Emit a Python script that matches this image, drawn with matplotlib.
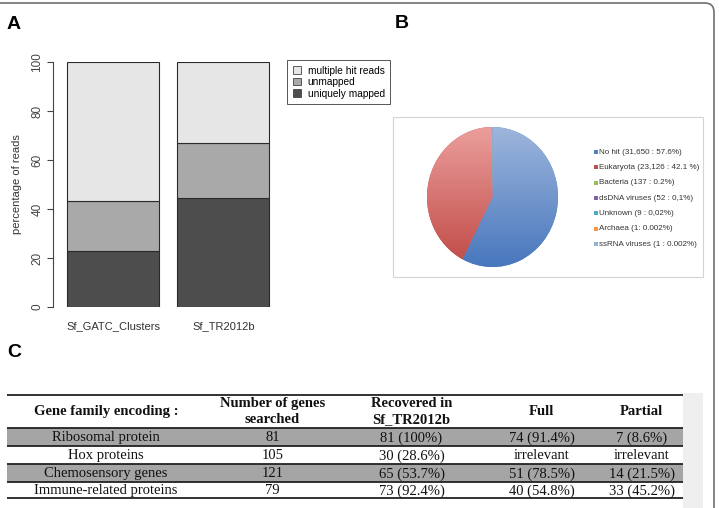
import matplotlib
matplotlib.use("Agg")
import matplotlib.pyplot as plt
import numpy as np
from matplotlib.patches import Patch, Rectangle, FancyBboxPatch
from matplotlib.colors import LinearSegmentedColormap

# ---- data ----
samples = ["Sf_GATC_Clusters", "Sf_TR2012b"]
uniquely_mapped = [23.0, 44.6]
unmapped = [20.2, 22.2]
multiple_hit = [56.8, 33.2]

pie_labels = ["No hit (31,650 : 57.6%)", "Eukaryota (23,126 : 42.1 %)", "Bacteria (137 : 0.2%)",
              "dsDNA viruses (52 : 0,1%)", "Unknown (9 : 0,02%)", "Archaea (1: 0.002%)",
              "ssRNA viruses (1 : 0.002%)"]
pie_counts = [31650, 23126, 137, 52, 9, 1, 1]
pie_colors = ["#4f81bd", "#c0504d", "#9bbb59", "#8064a2", "#4bacc6", "#f79646", "#95b3d7"]

table_header = ["Gene family encoding :", "Number of genes\nsearched", "Recovered in\nSf_TR2012b",
                "Full", "Partial"]
table_rows = [
    ["Ribosomal protein", "81", "81 (100%)", "74 (91.4%)", "7 (8.6%)"],
    ["Hox proteins", "105", "30 (28.6%)", "irrelevant", "irrelevant"],
    ["Chemosensory genes", "121", "65 (53.7%)", "51 (78.5%)", "14 (21.5%)"],
    ["Immune-related proteins", "79", "73 (92.4%)", "40 (54.8%)", "33 (45.2%)"],
]

W, H = 719, 508
fig = plt.figure(figsize=(W / 100, H / 100), dpi=100)


def px(x0, y0, x1, y1):
    return [x0 / W, 1 - y1 / H, (x1 - x0) / W, (y1 - y0) / H]


# background overlay in pixel coordinates
bg = fig.add_axes([0, 0, 1, 1], zorder=-1)
bg.set_xlim(0, W)
bg.set_ylim(H, 0)
bg.axis("off")
bg.add_patch(FancyBboxPatch((-30, 3), 744, 540, boxstyle="round,pad=0,rounding_size=9",
                            facecolor="none", edgecolor="#707070", lw=1.2))
bg.add_patch(Rectangle((683, 393), 20, 120, facecolor="#efefef", edgecolor="none"))
bg.add_patch(Rectangle((393, 117), 310, 160, facecolor="white", edgecolor="#d4d4d4", lw=0.8))

sans = "Liberation Sans"
for lab, x, y in [("A", 7, 29), ("B", 395, 28), ("C", 7, 357)]:
    bg.text(x, y, lab, fontsize=14, fontweight="bold", family=sans, va="baseline", ha="left")

# ---- panel A: stacked bars ----
ax = fig.add_axes(px(53, 62, 290, 307))
ax.set_facecolor("none")
pos = [0.7, 1.9]
ax.bar(pos, uniquely_mapped, width=1, color="#4d4d4d", edgecolor="#2a2a2a", lw=0.8)
ax.bar(pos, unmapped, width=1, bottom=uniquely_mapped, color="#a9a9a9", edgecolor="#2a2a2a", lw=0.8)
bottom2 = [a + b for a, b in zip(uniquely_mapped, unmapped)]
ax.bar(pos, multiple_hit, width=1, bottom=bottom2, color="#e6e6e6", edgecolor="#2a2a2a", lw=0.8)
ax.set_xlim(0.048, 2.624)
ax.set_ylim(0, 100)
for s in ["top", "right", "bottom"]:
    ax.spines[s].set_visible(False)
ax.spines["left"].set_bounds(0, 100)
ax.spines["left"].set_color("#444444")
ax.set_yticks([0, 20, 40, 60, 80, 100])
ax.tick_params(axis="y", direction="out", length=4, colors="#444444", labelsize=8.5, pad=3)
for t in ax.get_yticklabels():
    t.set_rotation(90)
    t.set_va("center")
    t.set_family(sans)
ax.set_xticks(pos)
ax.set_xticklabels(samples, fontsize=8, family=sans, color="#333333")
ax.tick_params(axis="x", length=0, pad=10)
ax.set_ylabel("percentage of reads", fontsize=8, family=sans, color="#333333", labelpad=7)

leg_handles = [Patch(facecolor="#e6e6e6", edgecolor="#444444", lw=0.6),
               Patch(facecolor="#a9a9a9", edgecolor="#444444", lw=0.6),
               Patch(facecolor="#4d4d4d", edgecolor="#444444", lw=0.6)]
leg = fig.legend(leg_handles, ["multiple hit reads", "unmapped", "uniquely mapped"],
                 loc="upper left", bbox_to_anchor=(287 / W, 1 - 60 / H), fancybox=False,
                 edgecolor="#555555", framealpha=1, handlelength=0.8,
                 handleheight=0.8, labelspacing=0.15, borderpad=0.55, handletextpad=0.7,
                 borderaxespad=0, prop={"family": sans, "size": 7.3})
leg.get_frame().set_linewidth(0.7)

# ---- panel B: pie ----
pax = fig.add_axes(px(427, 127, 558, 267))
pax.set_facecolor("none")
wedges, _ = pax.pie(pie_counts, colors=pie_colors, startangle=90, counterclock=False,
                    radius=1, wedgeprops=dict(linewidth=0))
grad = np.linspace(0, 1, 256).reshape(-1, 1)
grads = [("#4877bd", "#9db6dc"), ("#c04a46", "#eb9e9c")]
for w, (c_lo, c_hi) in zip(wedges[:2], grads):
    cmap = LinearSegmentedColormap.from_list("g", [c_lo, c_hi])
    im = pax.imshow(grad, extent=(-1, 1, -1, 1), origin="lower", cmap=cmap, aspect="auto",
                    zorder=3)
    im.set_clip_path(w)
pax.set_xlim(-1, 1)
pax.set_ylim(-1, 1)
pax.set_aspect("auto")
pax.axis("off")

for i, (lab, col) in enumerate(zip(pie_labels, pie_colors)):
    y = 152 + i * 15.35
    bg.scatter([596], [y], marker="s", s=6, color=col, linewidths=0)
    bg.text(599, y, lab, fontsize=5.75, family=sans, color="#333333", va="center", ha="left")

# ---- panel C: table ----
tax = fig.add_axes(px(7, 393, 683, 500))
tax.set_facecolor("none")
tax.set_xlim(7, 683)
tax.set_ylim(500, 393)
tax.axis("off")
col_edges = [7, 205, 340, 483, 600, 683]
centers = [(a + b) / 2 for a, b in zip(col_edges[:-1], col_edges[1:])]
row_edges = [428, 446, 464, 482, 498]
serif = "Liberation Serif"

for i, row in enumerate(table_rows):
    top, bot = row_edges[i], row_edges[i + 1]
    if i % 2 == 0:
        tax.add_patch(Rectangle((7, top), 676, bot - top, facecolor="#a5a5a5", edgecolor="none"))
        tax.hlines([top, bot], 7, 683, color="#222222", lw=1.3)
    for c, txt in zip(centers, row):
        tax.text(c, (top + bot) / 2 + 1, txt, fontsize=10.5, family=serif, ha="center",
                 va="center", color="#111111")

tax.hlines([395], 7, 683, color="#222222", lw=1.3)
tax.hlines([498], 7, 683, color="#222222", lw=1.3)
for c, txt in zip(centers, table_header):
    tax.text(c, 412, txt, fontsize=10.5, family=serif, fontweight="bold", ha="center",
             va="center", color="#111111", linespacing=1.3)

fig.savefig("out.png", dpi=100)
